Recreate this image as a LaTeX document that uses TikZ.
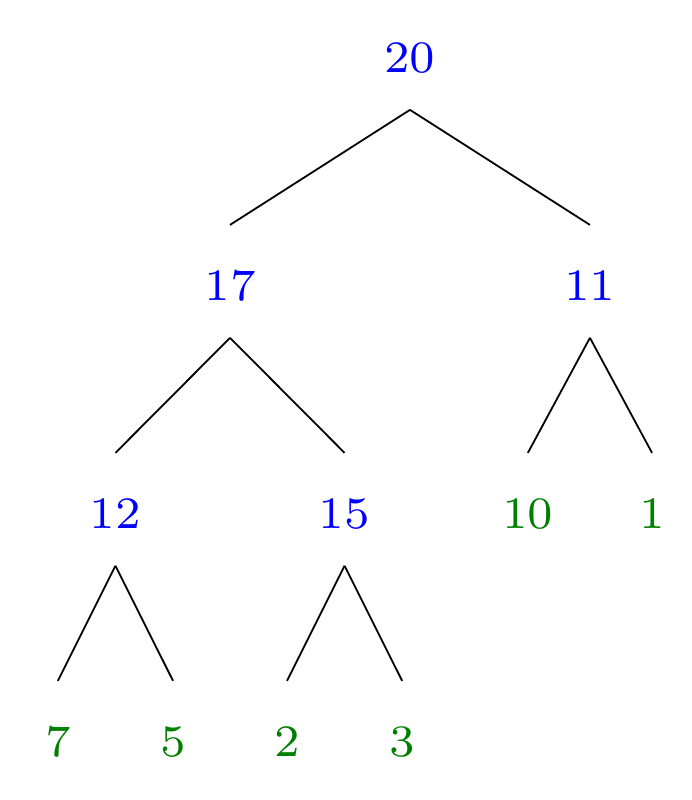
\documentclass[tikz,border=0pt]{standalone}
\usepackage{xcolor}
\usepackage{graphicx}
\usepackage{tikz}
\usetikzlibrary{arrows,positioning}
\definecolor{leafgreen}{RGB}{0,128,0}
\newcommand{\val}[1]{\scalebox{1.4286}{#1}}
\begin{document}
\begin{tikzpicture}[-,auto,node distance=1.781cm,
  every node/.style={inner sep=0pt,text height=16.7pt,text depth=8pt,font=\scriptsize},
  sum/.style={text=blue},leaf/.style={text=leafgreen}]
\useasboundingbox (0,0) rectangle (5.406,-6.25);
\node (n20) [sum] at (3.203,-0.417) {\val{20}};
\node (n17) [sum,below of=n20,xshift=-1.406cm] {\val{17}};
\node (n11) [sum,below of=n20,xshift=1.406cm] {\val{11}};
\node (n12) [sum,below of=n17,xshift=-0.895cm] {\val{12}};
\node (n15) [sum,below of=n17,xshift=0.895cm] {\val{15}};
\node (n10) [leaf,below of=n11,xshift=-0.485cm] {\val{10}};
\node (n1) [leaf,below of=n11,xshift=0.485cm] {\val{1}};
\node (n7) [leaf,below of=n12,xshift=-0.45cm] {\val{7}};
\node (n5) [leaf,below of=n12,xshift=0.45cm] {\val{5}};
\node (n2) [leaf,below of=n15,xshift=-0.45cm] {\val{2}};
\node (n3) [leaf,below of=n15,xshift=0.45cm] {\val{3}};

\path
(n20.south) edge (n17.north)
	edge (n11.north)
(n17.south) edge (n12.north)
	edge (n15.north)
(n11.south) edge (n10.north)
	edge (n1.north)
(n12.south) edge (n7.north)
	edge (n5.north)
(n15.south) edge (n2.north)
	edge (n3.north);
\end{tikzpicture}
\end{document}
